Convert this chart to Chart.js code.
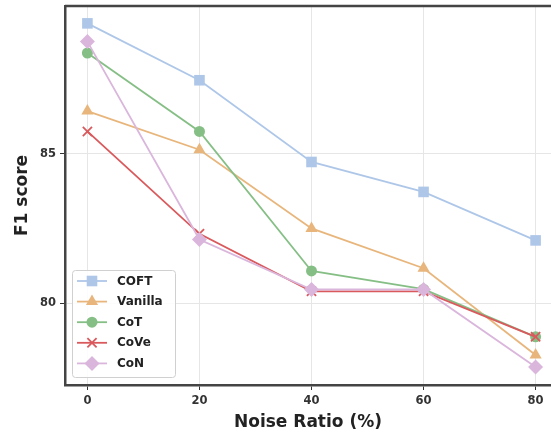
<!DOCTYPE html>
<html>
<head>
<meta charset="utf-8">
<script src="https://cdn.jsdelivr.net/npm/chart.js@4.4.1/dist/chart.umd.min.js"></script>
<style>
	html, body { margin: 0; padding: 0; background: #fff; }
	#wrap { width: 551px; height: 435px; }
</style>
</head>
<body>
<div id="wrap"><canvas id="chart" width="551" height="435"></canvas></div>
<script>
// values
var noiseRatio = [0, 20, 40, 60, 80];
var coftScores = [89.35, 87.45, 84.72, 83.72, 82.1];
var vanillaScores = [86.42, 85.13, 82.5, 81.17, 78.27];
var cotScores = [88.36, 85.74, 81.08, 80.47, 78.88];
var coveScores = [85.74, 82.32, 80.4, 80.4, 78.88];
var conScores = [88.74, 82.13, 80.46, 80.46, 77.87];
var xTicks = [0, 20, 40, 60, 80];
var yTicks = [80, 85];

var seriesNames = ['COFT', 'Vanilla', 'CoT', 'CoVe', 'CoN'];
var seriesValues = [coftScores, vanillaScores, cotScores, coveScores, conScores];
var seriesColors = ['#aec7e8', '#e8b67c', '#86bf86', '#d9595c', '#dab6dc'];
var seriesMarkers = ['rect', 'triangle', 'circle', 'crossRot', 'rectRot'];
var markerSizes = [7.5, 7, 5.5, 6.5, 7.5];

var font = 'DejaVu Sans';

function makePoints(vals) {
	return noiseRatio.map(function (x, i) { return { x: x, y: vals[i] }; });
}

var datasets = seriesNames.map(function (name, i) {
	return {
		label: name,
		data: makePoints(seriesValues[i]),
		borderColor: seriesColors[i],
		backgroundColor: seriesColors[i],
		pointBackgroundColor: seriesColors[i],
		pointBorderColor: seriesColors[i],
		pointStyle: seriesMarkers[i],
		pointRadius: markerSizes[i],
		pointBorderWidth: seriesMarkers[i] == 'crossRot' ? 1.8 : 0,
		borderWidth: 1.8,
		tension: 0,
		clip: false,
		order: seriesNames.length - i
	};
});

var whiteBg = {
	id: 'whiteBg',
	beforeDraw: function (chart) {
		var c = chart.ctx;
		c.save();
		c.fillStyle = '#fff';
		c.fillRect(0, 0, chart.width, chart.height);
		c.restore();
	}
};

// top spine, matplotlib style frame
var frame = {
	id: 'frame',
	afterDatasetsDraw: function (chart) {
		var a = chart.chartArea, c = chart.ctx;
		c.save();
		c.strokeStyle = '#444';
		c.lineWidth = 2.5;
		c.beginPath();
		c.moveTo(a.left, a.top);
		c.lineTo(chart.width, a.top);
		c.stroke();
		c.restore();
	}
};

var boxLegend = {
	id: 'boxLegend',
	afterDraw: function (chart) {
		var c = chart.ctx;
		var bx = 72, by = 270, bw = 103, bh = 107;
		c.save();
		c.fillStyle = 'rgba(255,255,255,0.85)';
		c.strokeStyle = '#d0d0d0';
		c.lineWidth = 1;
		c.beginPath();
		if (c.roundRect) c.roundRect(bx + 0.5, by + 0.5, bw, bh, 3); else c.rect(bx + 0.5, by + 0.5, bw, bh);
		c.fill();
		c.stroke();
		chart.data.datasets.forEach(function (ds, i) {
			var y = 281 + i * 20.6;
			c.strokeStyle = ds.borderColor;
			c.lineWidth = 1.8;
			c.beginPath();
			c.moveTo(77, y);
			c.lineTo(107, y);
			c.stroke();
			c.fillStyle = ds.pointBackgroundColor;
			c.strokeStyle = ds.pointBorderColor;
			Chart.helpers.drawPoint(c, {
				pointStyle: ds.pointStyle,
				radius: ds.pointRadius,
				rotation: 0,
				borderWidth: ds.pointBorderWidth
			}, 92, y);
			c.fillStyle = '#222';
			c.font = 'bold 12px "' + font + '"';
			c.textBaseline = 'middle';
			c.textAlign = 'left';
			c.fillText(ds.label, 117, y + 0.5);
		});
		c.restore();
	}
};

var ctx = document.getElementById('chart').getContext('2d');
var chart = new Chart(ctx, {
	type: 'line',
	data: { datasets: datasets },
	plugins: [whiteBg, frame, boxLegend],
	options: {
		responsive: false,
		animation: false,
		layout: { autoPadding: false, padding: { top: 6, right: 0, left: 0, bottom: 0 } },
		plugins: {
			legend: { display: false },
			tooltip: { enabled: false }
		},
		scales: {
			x: {
				type: 'linear',
				min: -4,
				max: 82.75,
				afterBuildTicks: function (s) { s.ticks = xTicks.map(function (v) { return { value: v }; }); },
				afterFit: function (s) { s.height = 50; s.paddingRight = 0; s.paddingLeft = 0; },
				grid: { color: '#e6e6e6', lineWidth: 1, tickColor: '#333', tickLength: 5 },
				border: { display: true, color: '#444', width: 2.5 },
				ticks: { color: '#333', padding: 4, maxRotation: 0, font: { family: font, size: 11.5, weight: 'bold' } },
				title: { display: true, text: 'Noise Ratio (%)', color: '#222', padding: { top: 0, bottom: 2 }, font: { family: font, size: 17, weight: 'bold' } }
			},
			y: {
				type: 'linear',
				min: 77.27,
				max: 89.93,
				afterBuildTicks: function (s) { s.ticks = yTicks.map(function (v) { return { value: v }; }); },
				afterFit: function (s) { s.width = 65; s.paddingTop = 0; s.paddingBottom = 0; },
				grid: { color: '#e6e6e6', lineWidth: 1, tickColor: '#333', tickLength: 5 },
				border: { display: true, color: '#444', width: 2.5 },
				ticks: { color: '#333', padding: 4, font: { family: font, size: 11.5, weight: 'bold' } },
				title: { display: true, text: 'F1 score', color: '#222', padding: { top: 12, bottom: 0 }, font: { family: font, size: 17, weight: 'bold' } }
			}
		}
	}
});
</script>
</body>
</html>
